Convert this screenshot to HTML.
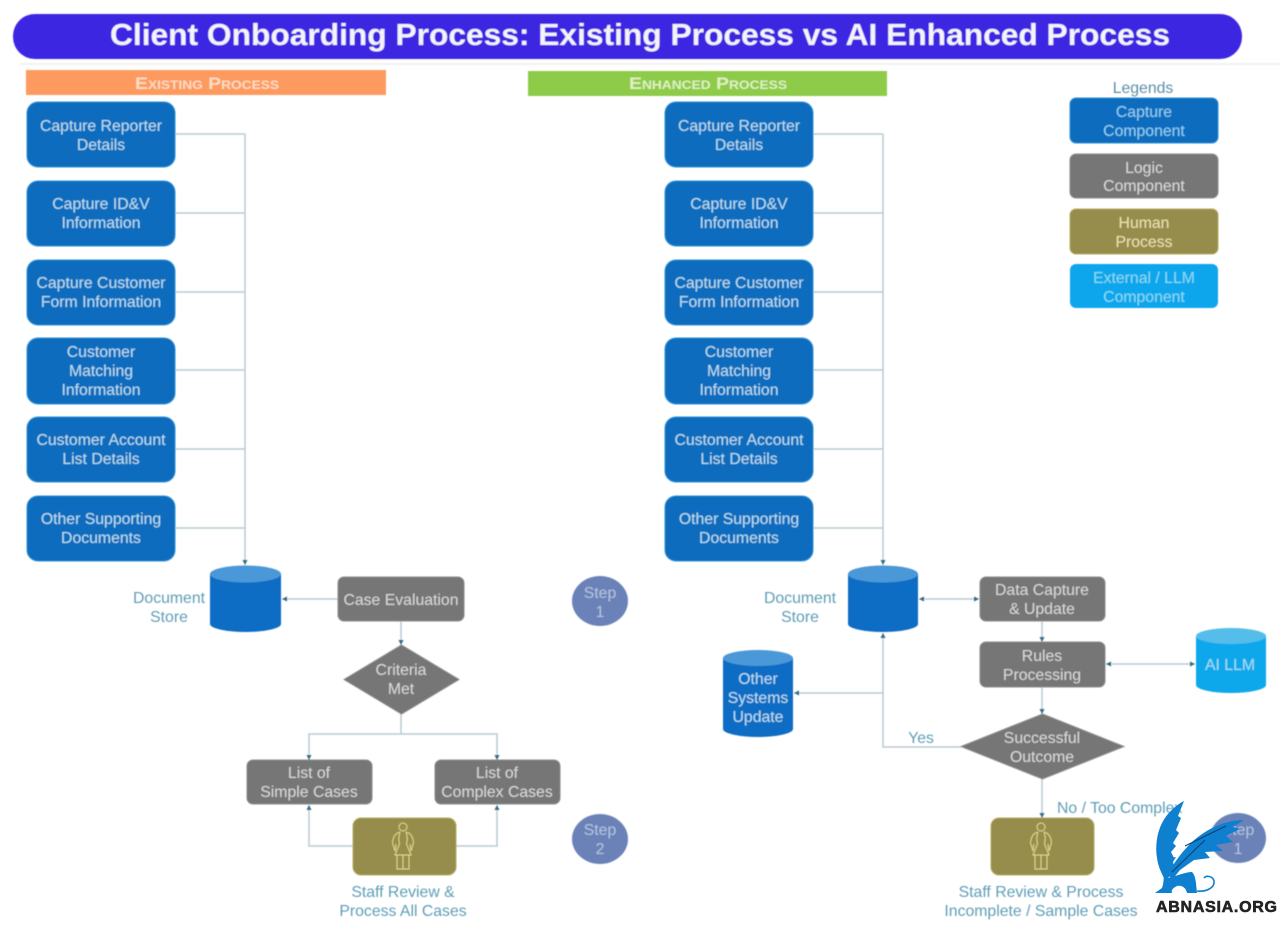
<!DOCTYPE html>
<html><head><meta charset="utf-8"><title>Client Onboarding Process</title>
<style>
html,body{margin:0;padding:0;background:#fff}
svg{display:block}
text{font-family:"Liberation Sans",sans-serif;text-anchor:middle;font-size:15.8px}
.w{fill:#b9deef}.g{fill:#d8d8d8}.l{fill:#5e9db6}.o{fill:#ebe3b0}.s{fill:#b4c4de}
.c{fill:none;stroke:#b8cbd2;stroke-width:1.5}
.b{fill:#0e6cbd;stroke:#2f90d4;stroke-width:1}
.y{fill:#767676;stroke:#8c8c8c;stroke-width:1}
.h{fill:#968c4c;stroke:#b5ab62;stroke-width:1}
.p{fill:none;stroke:#e3d98e;stroke-width:1}
.a{fill:#2d6a86}
</style></head><body>
<svg width="1280" height="928" viewBox="0 0 1280 928" xmlns="http://www.w3.org/2000/svg">
<defs>
<filter id="bl" x="-2%" y="-2%" width="104%" height="104%"><feGaussianBlur stdDeviation="0.5"/></filter>
<marker id="m" markerUnits="userSpaceOnUse" markerWidth="6" markerHeight="6" refX="5" refY="3" orient="auto-start-reverse"><path d="M0,0.5L5,3L0,5.5Z" class="a"/></marker>
</defs>
<rect width="1280" height="928" fill="#fff"/>
<g filter="url(#bl)">
<rect x="20" y="63" width="1260" height="2" fill="#f1f1f1"/>
<rect x="13" y="14" width="1229" height="45" rx="22" fill="#3d25e2"/>
<text x="640" y="45" style="font-size:31px;font-weight:bold" fill="#f4f2fb" textLength="1060" lengthAdjust="spacingAndGlyphs">Client Onboarding Process: Existing Process vs AI Enhanced Process</text>
<rect x="26" y="70" width="360" height="25" fill="#fd9a5e"/>
<rect x="528" y="71" width="359" height="25" fill="#8ecb48"/>
<text x="207" y="89" style="font-size:17px;font-weight:bold;font-variant:small-caps" fill="#fbdcc2" textLength="144" lengthAdjust="spacingAndGlyphs">Existing Process</text>
<text x="708" y="89" style="font-size:17px;font-weight:bold;font-variant:small-caps" fill="#dff0c2" textLength="158" lengthAdjust="spacingAndGlyphs">Enhanced Process</text>

<!-- connectors left -->
<path class="c" d="M175,134H245M175,213H245M175,292H245M175,370H245M175,449H245M175,528H245"/>
<path class="c" d="M245,134V565" marker-end="url(#m)"/>
<path class="c" d="M338,599H282" marker-end="url(#m)"/>
<path class="c" d="M401,621V645" marker-end="url(#m)"/>
<path class="c" d="M401,714V734"/>
<path class="c" d="M401,734H309V760" marker-end="url(#m)"/>
<path class="c" d="M401,734H497V760" marker-end="url(#m)"/>
<path class="c" d="M353,846H309V805" marker-end="url(#m)"/>
<path class="c" d="M456,846H497V805" marker-end="url(#m)"/>

<!-- connectors right -->
<path class="c" d="M813,134H883M813,213H883M813,292H883M813,370H883M813,449H883M813,528H883"/>
<path class="c" d="M883,134V565" marker-end="url(#m)"/>
<path class="c" d="M919,599H979" marker-start="url(#m)" marker-end="url(#m)"/>
<path class="c" d="M1042,621V642" marker-end="url(#m)"/>
<path class="c" d="M1106,664H1195" marker-start="url(#m)" marker-end="url(#m)"/>
<path class="c" d="M1042,687V714" marker-end="url(#m)"/>
<path class="c" d="M961,747H883V633" marker-end="url(#m)"/>
<path class="c" d="M883,693H794" marker-end="url(#m)"/>
<path class="c" d="M1042,779V818" marker-end="url(#m)"/>

<!-- left capture boxes -->
<rect class="b" x="27" y="102" width="148" height="65" rx="11"/><text class="w" x="101" y="131">Capture Reporter</text><text class="w" x="101" y="150">Details</text>
<rect class="b" x="27" y="181" width="148" height="65" rx="11"/><text class="w" x="101" y="209">Capture ID&amp;V</text><text class="w" x="101" y="228">Information</text>
<rect class="b" x="27" y="260" width="148" height="65" rx="11"/><text class="w" x="101" y="288">Capture Customer</text><text class="w" x="101" y="307">Form Information</text>
<rect class="b" x="27" y="338" width="148" height="66" rx="11"/><text class="w" x="101" y="357">Customer</text><text class="w" x="101" y="376">Matching</text><text class="w" x="101" y="395">Information</text>
<rect class="b" x="27" y="417" width="148" height="65" rx="11"/><text class="w" x="101" y="445">Customer Account</text><text class="w" x="101" y="464">List Details</text>
<rect class="b" x="27" y="496" width="148" height="65" rx="11"/><text class="w" x="101" y="524">Other Supporting</text><text class="w" x="101" y="543">Documents</text>

<!-- right capture boxes -->
<rect class="b" x="665" y="102" width="148" height="65" rx="11"/><text class="w" x="739" y="131">Capture Reporter</text><text class="w" x="739" y="150">Details</text>
<rect class="b" x="665" y="181" width="148" height="65" rx="11"/><text class="w" x="739" y="209">Capture ID&amp;V</text><text class="w" x="739" y="228">Information</text>
<rect class="b" x="665" y="260" width="148" height="65" rx="11"/><text class="w" x="739" y="288">Capture Customer</text><text class="w" x="739" y="307">Form Information</text>
<rect class="b" x="665" y="338" width="148" height="66" rx="11"/><text class="w" x="739" y="357">Customer</text><text class="w" x="739" y="376">Matching</text><text class="w" x="739" y="395">Information</text>
<rect class="b" x="665" y="417" width="148" height="65" rx="11"/><text class="w" x="739" y="445">Customer Account</text><text class="w" x="739" y="464">List Details</text>
<rect class="b" x="665" y="496" width="148" height="65" rx="11"/><text class="w" x="739" y="524">Other Supporting</text><text class="w" x="739" y="543">Documents</text>

<!-- left store -->
<path d="M210,574V624A35.500,8 0 0 0 281,624V574Z" fill="#0e6cc4"/><ellipse cx="245.500" cy="574" rx="35.500" ry="8.500" fill="#4c98d8"/>
<text class="l" x="169" y="603">Document</text><text class="l" x="169" y="622">Store</text>

<rect class="y" x="338" y="577" width="126" height="44" rx="6"/><text class="g" x="401" y="605">Case Evaluation</text>
<polygon class="y" points="401.500,645 459,679.500 401.500,714 344,679.500"/>
<text class="g" x="401" y="675">Criteria</text><text class="g" x="401" y="694">Met</text>
<rect class="y" x="247" y="760" width="125" height="44" rx="6"/><text class="g" x="309" y="778">List of</text><text class="g" x="309" y="797">Simple Cases</text>
<rect class="y" x="435" y="760" width="125" height="44" rx="6"/><text class="g" x="497" y="778">List of</text><text class="g" x="497" y="797">Complex Cases</text>

<rect class="h" x="353" y="818" width="103" height="57" rx="8"/>
<g class="p" transform="translate(403,822)"><circle cx="0" cy="5" r="4"/><path d="M-3,10C-7,11-10,14-10.500,21L-8,29L-7,22M3,10C7,11 10,14 10.500,21L8,29L7,22M-3,10C-5,16-4,19-3.500,22L-8,33H8L3.500,22C4,19 5,16 3,10M-6,33V47H6V33M0,33V47"/></g>
<text class="l" x="403" y="897">Staff Review &amp;</text><text class="l" x="403" y="916">Process All Cases</text>

<ellipse cx="600" cy="601" rx="28" ry="25" fill="#6a82b8"/><text class="s" x="600" y="598">Step</text><text class="s" x="600" y="617">1</text>
<ellipse cx="600" cy="839" rx="28" ry="25" fill="#6a82b8"/><text class="s" x="600" y="835">Step</text><text class="s" x="600" y="854">2</text>

<!-- right store -->
<path d="M848,574V624A35,8 0 0 0 918,624V574Z" fill="#0e6cc4"/><ellipse cx="883" cy="574" rx="35" ry="8.500" fill="#4c98d8"/>
<text class="l" x="800" y="603">Document</text><text class="l" x="800" y="622">Store</text>

<rect class="y" x="980" y="577" width="125" height="44" rx="6"/><text class="g" x="1042" y="595">Data Capture</text><text class="g" x="1042" y="614">&amp; Update</text>
<rect class="y" x="980" y="642" width="125" height="45" rx="6"/><text class="g" x="1042" y="661">Rules</text><text class="g" x="1042" y="680">Processing</text>

<path d="M1196,636V685A35,8 0 0 0 1266,685V636Z" fill="#11a7ec"/><ellipse cx="1231" cy="636" rx="35" ry="8" fill="#55bdea"/>
<text x="1230" y="670" fill="#a5dcf0">AI LLM</text>

<path d="M723,658V729A35,8 0 0 0 793,729V658Z" fill="#0e6cc4"/><ellipse cx="758" cy="658" rx="35" ry="8" fill="#4c98d8"/>
<text class="w" x="758" y="684">Other</text><text class="w" x="758" y="703">Systems</text><text class="w" x="758" y="722">Update</text>

<polygon class="y" points="1042.500,714 1124,746.500 1042.500,779 961,746.500"/>
<text class="g" x="1042" y="743">Successful</text><text class="g" x="1042" y="762">Outcome</text>
<text class="l" x="921" y="743">Yes</text>
<text class="l" x="1057" y="813" style="text-anchor:start">No / Too Complex</text>

<rect class="h" x="991" y="818" width="103" height="57" rx="8"/>
<g class="p" transform="translate(1041,822)"><circle cx="0" cy="5" r="4"/><path d="M-3,10C-7,11-10,14-10.500,21L-8,29L-7,22M3,10C7,11 10,14 10.500,21L8,29L7,22M-3,10C-5,16-4,19-3.500,22L-8,33H8L3.500,22C4,19 5,16 3,10M-6,33V47H6V33M0,33V47"/></g>
<text class="l" x="1041" y="897">Staff Review &amp; Process</text><text class="l" x="1041" y="916">Incomplete / Sample Cases</text>

<ellipse cx="1238" cy="838" rx="28" ry="25" fill="#6a82b8"/><text class="s" x="1238" y="835">Step</text><text class="s" x="1238" y="854">1</text>

<!-- legend -->
<text x="1143" y="93" fill="#5c8ea6">Legends</text>
<rect class="b" x="1070" y="98" width="148" height="45" rx="6"/><text fill="#8fd0f2" x="1144" y="117">Capture</text><text fill="#8fd0f2" x="1144" y="136">Component</text>
<rect class="y" x="1070" y="154" width="148" height="44" rx="6"/><text class="g" x="1144" y="173">Logic</text><text class="g" x="1144" y="191">Component</text>
<rect class="h" x="1070" y="209" width="148" height="45" rx="6"/><text class="o" x="1144" y="228">Human</text><text class="o" x="1144" y="247">Process</text>
<rect x="1070" y="264" width="148" height="44" rx="6" fill="#11a5ec"/><text fill="#86dcf2" x="1144" y="283">External / LLM</text><text fill="#86dcf2" x="1144" y="302">Component</text>
</g>

<!-- griffin logo -->
<g fill="#0f7fd0">
<path d="M1184,801C1176,805 1167,813 1162,823C1157,833 1155,846 1157,858C1158,866 1161,872 1164,878L1167,868C1168,862 1170,859 1174,858L1171,852L1176,846L1173,843L1179,833L1176,830L1181,818L1178,816Z"/>
<path d="M1168,874C1172,866 1180,854 1190,844C1202,832 1222,820 1244,820L1233,827L1240,829L1226,836L1233,842L1216,845L1223,851L1205,852L1210,858L1194,860L1180,870L1172,880Z"/>
<path d="M1164,862C1168,857 1172,858 1176,857L1173,862C1175,868 1172,874 1168,878C1176,876 1186,872 1192,872C1196,876 1196,884 1197,893H1187C1186,888 1182,885 1177,886C1173,888 1171,890 1172,893H1155L1162,888C1165,880 1163,870 1164,862Z"/>
<path d="M1197,891C1206,892 1215,888 1214,881C1213,876 1206,875 1204,878" fill="none" stroke="#0f7fd0" stroke-width="1.600"/>
</g>
<path d="M1172,872L1205,840M1185,846L1226,826" fill="none" stroke="#0b3f6e" stroke-width="1"/>
<text x="1216.500" y="912" style="font-size:16px;font-weight:bold;stroke:#232323;stroke-width:0.6px" fill="#232323" textLength="121" lengthAdjust="spacing">ABNASIA.ORG</text>
</svg>
</body></html>
